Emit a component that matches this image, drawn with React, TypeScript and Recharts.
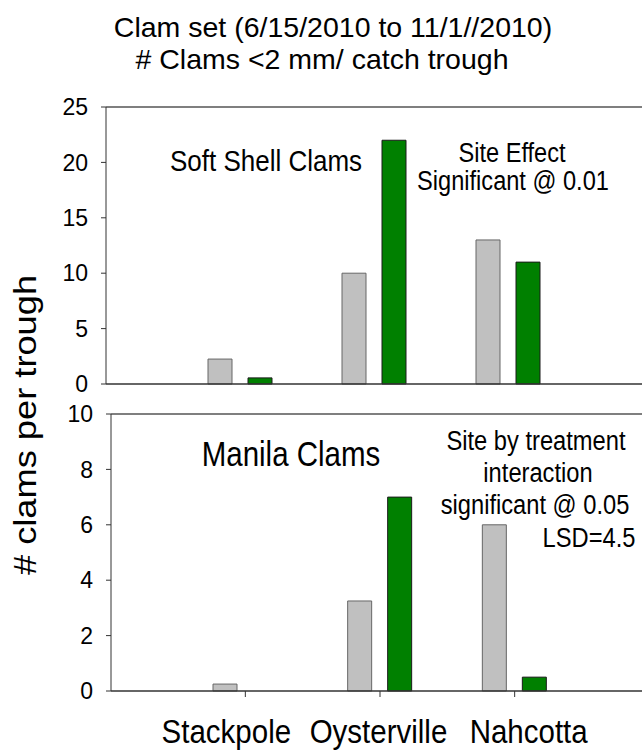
import { BarChart, Bar, XAxis, YAxis, ReferenceLine } from 'recharts';

// sites along the x axis
const sites = ['Stackpole', 'Oysterville', 'Nahcotta'];

// soft shell clams, # per trough
const softShellGray = [2.25, 10, 13];
const softShellGreen = [0.55, 22, 11];
const softShellTicks = [0, 5, 10, 15, 20, 25];

// manila clams, # per trough
const manilaGray = [0.25, 3.25, 6];
const manilaGreen = [0, 7, 0.5];
const manilaTicks = [0, 2, 4, 6, 8, 10];

const FONT = '"Liberation Sans", Arial, Helvetica, sans-serif';
const GRAY = '#c0c0c0';
const GREEN = '#008000';
const AXIS = '#333333';
// the original picture is stretched a bit in height, text included
const STRETCH = 1.17;

const softShellData = sites.map((site, i) => ({ site, gray: softShellGray[i], green: softShellGreen[i] }));
const manilaData = sites.map((site, i) => ({ site, gray: manilaGray[i], green: manilaGreen[i] }));

function Txt({ x, y, size, sy = STRETCH, children }: { x: number; y: number; size: number; sy?: number; children: string }) {
  return (
    <text
      transform={`translate(${x},${y}) scale(1,${sy})`}
      fontSize={size}
      fontFamily={FONT}
      fill="#000"
      textAnchor="middle"
    >
      {children}
    </text>
  );
}

// site names sit a little off the tick marks in the original
const labelShift = [-19, -1.5, 14];

function SiteTick(props: any) {
  const { x, y, payload, index } = props;
  return (
    <text
      transform={`translate(${x + labelShift[index]},${y + 46}) scale(1,1.12)`}
      fontSize={29.5}
      fontFamily={FONT}
      fill="#000"
      textAnchor="middle"
    >
      {payload.value}
    </text>
  );
}

const yTick = { fontSize: 23, fill: '#000', fontFamily: FONT };

export default function App() {
  return (
    <div style={{ position: 'absolute', left: 0, top: 0, width: 642, height: 753, overflow: 'hidden', background: '#fff' }}>
      {/* Soft shell panel */}
      <div style={{ position: 'absolute', left: 0, top: 0 }}>
        <BarChart width={642} height={400} data={softShellData} margin={{ top: 107, right: 0, bottom: 0, left: 0 }} barSize={24} barGap={16}>
          <XAxis
            dataKey="site"
            height={16}
            tick={false}
            tickSize={6}
            padding={{ left: 67, right: 67 }}
            axisLine={{ stroke: AXIS, strokeWidth: 1.5 }}
            tickLine={{ stroke: AXIS }}
          />
          <YAxis
            width={106}
            domain={[0, 25]}
            ticks={softShellTicks}
            tickSize={5}
            tickMargin={13}
            tick={yTick}
            axisLine={{ stroke: AXIS }}
            tickLine={{ stroke: AXIS }}
          />
          <ReferenceLine y={25} stroke="#555" strokeWidth={1.5} />
          <Bar dataKey="gray" fill={GRAY} stroke="#666" isAnimationActive={false} />
          <Bar dataKey="green" fill={GREEN} stroke="#1b1b1b" isAnimationActive={false} />
        </BarChart>
      </div>

      {/* Manila panel */}
      <div style={{ position: 'absolute', left: 0, top: 400 }}>
        <BarChart width={649} height={351} data={manilaData} margin={{ top: 14, right: 0, bottom: 0, left: 0 }} barSize={24} barGap={16}>
          <XAxis
            dataKey="site"
            height={60}
            tick={<SiteTick />}
            tickSize={6}
            tickMargin={0}
            interval={0}
            padding={{ left: 67, right: 67 }}
            axisLine={{ stroke: AXIS, strokeWidth: 1.5 }}
            tickLine={{ stroke: AXIS }}
          />
          <YAxis
            width={111}
            domain={[0, 10]}
            ticks={manilaTicks}
            tickSize={5}
            tickMargin={13}
            tick={yTick}
            axisLine={{ stroke: AXIS }}
            tickLine={{ stroke: AXIS }}
          />
          <ReferenceLine y={10} stroke="#555" strokeWidth={1.5} />
          <Bar dataKey="gray" fill={GRAY} stroke="#666" isAnimationActive={false} />
          <Bar dataKey="green" fill={GREEN} stroke="#1b1b1b" isAnimationActive={false} />
        </BarChart>
      </div>

      {/* titles and notes */}
      <svg width={642} height={753} style={{ position: 'absolute', left: 0, top: 0, pointerEvents: 'none' }}>
        <Txt x={333} y={37} size={28.5} sy={1}>Clam set (6/15/2010 to 11/1//2010)</Txt>
        <Txt x={322} y={69} size={28.5} sy={1}># Clams &lt;2 mm/ catch trough</Txt>

        <Txt x={266} y={171} size={26}>Soft Shell Clams</Txt>
        <Txt x={512} y={162} size={23.6}>Site Effect</Txt>
        <Txt x={513} y={190} size={23.6}>Significant @ 0.01</Txt>

        <Txt x={291} y={466} size={29.5}>Manila Clams</Txt>
        <Txt x={536} y={450} size={23.7}>Site by treatment</Txt>
        <Txt x={538} y={482} size={23.7}>interaction</Txt>
        <Txt x={535} y={514} size={23.7}>significant @ 0.05</Txt>
        <Txt x={589} y={547} size={23.7}>LSD=4.5</Txt>

        <text
          transform={`translate(36,425) rotate(-90) scale(${STRETCH},1)`}
          fontSize={31}
          fontFamily={FONT}
          fill="#000"
          textAnchor="middle"
        >
          # clams per trough
        </text>
      </svg>
    </div>
  );
}
